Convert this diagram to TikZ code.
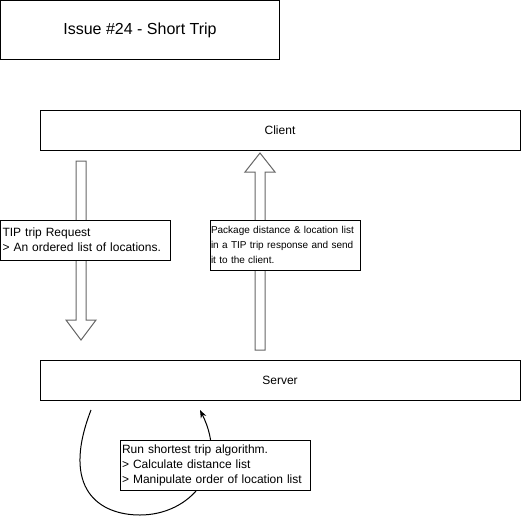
\documentclass[tikz,border=0pt]{standalone}
\usepackage{fontspec}
\setmainfont{Liberation Sans}
\usetikzlibrary{%
    positioning, calc, arrows.meta
}
\tikzset{
    every node/.style = {
        rectangle, draw=black, line width=1pt,
        fill=white, font=\fontsize{12}{15}\selectfont,
        outer sep=0pt, inner sep=0pt,
    },
    lane/.style = {
        minimum width = 480pt,
        minimum height = 40pt
    },
    note/.style = {
        anchor=north west,
        align=left,
        inner xsep=2pt
    },
    flexarrow/.style = {
        draw=black!60, line width=1pt, fill=white
    }
}

\begin{document}
\begin{tikzpicture}[x=1pt, y=1pt]
    \useasboundingbox (0,0) rectangle (521,-517);
    \node[
        minimum width = 279pt,
        minimum height = 59pt,
        font=\fontsize{16}{19}\selectfont
    ] (title) at (140,-30) {Issue \#24 - Short Trip};
    \node[lane] (client) at (280,-130) {Client};
    \node[lane] (server) at (280,-380) {Server};
    % request arrow, client -> server
    \coordinate (reqtail) at ([xshift=41pt,yshift=-11pt]client.south west);
    \coordinate (reqtip) at ([xshift=41pt,yshift=20pt]server.north west);
    \draw[flexarrow] ([xshift=-5pt]reqtail) -- ([xshift=5pt]reqtail)
        -- ([shift={(5pt,20pt)}]reqtip) -- ([shift={(15pt,20pt)}]reqtip)
        -- (reqtip)
        -- ([shift={(-15pt,20pt)}]reqtip) -- ([shift={(-5pt,20pt)}]reqtip)
        -- cycle;
    % response arrow, server -> client
    \coordinate (resptail) at ([xshift=220pt,yshift=10pt]server.north west);
    \coordinate (resptip) at ([xshift=220pt,yshift=-3pt]client.south west);
    \draw[flexarrow] ([xshift=-5pt]resptail) -- ([xshift=5pt]resptail)
        -- ([shift={(5pt,-19pt)}]resptip) -- ([shift={(15pt,-19pt)}]resptip)
        -- (resptip)
        -- ([shift={(-15pt,-19pt)}]resptip) -- ([shift={(-5pt,-19pt)}]resptip)
        -- cycle;
    % loop on the server
    \coordinate (loopstart) at ([xshift=51pt,yshift=-10pt]server.south west);
    \coordinate (loopend) at ([xshift=160pt,yshift=-10pt]server.south west);
    \draw[line width=1pt, -{Stealth[length=8pt,width=6pt]}] (loopstart)
        .. controls (60,-490) and (100,-515) .. (140,-515)
        .. controls (190,-515) and (230,-470) .. (loopend);
    \node[
        note,
        text width = 166pt,
        minimum height = 40pt
    ] (request) at (0.5,-220) {TIP trip Request\\> An ordered list of locations.};
    \node[
        note,
        inner xsep = 1pt,
        text width = 148pt,
        minimum height = 50pt,
        font=\fontsize{10}{15}\selectfont
    ] (response) at (210,-220) {Package distance \& location list\\in a TIP trip response and send\\it to the client.};
    \node[
        note,
        text width = 186pt,
        minimum height = 50pt
    ] (algo) at (120,-440) {Run shortest trip algorithm.\\> Calculate distance list\\> Manipulate order of location list};
\end{tikzpicture}
\end{document}
